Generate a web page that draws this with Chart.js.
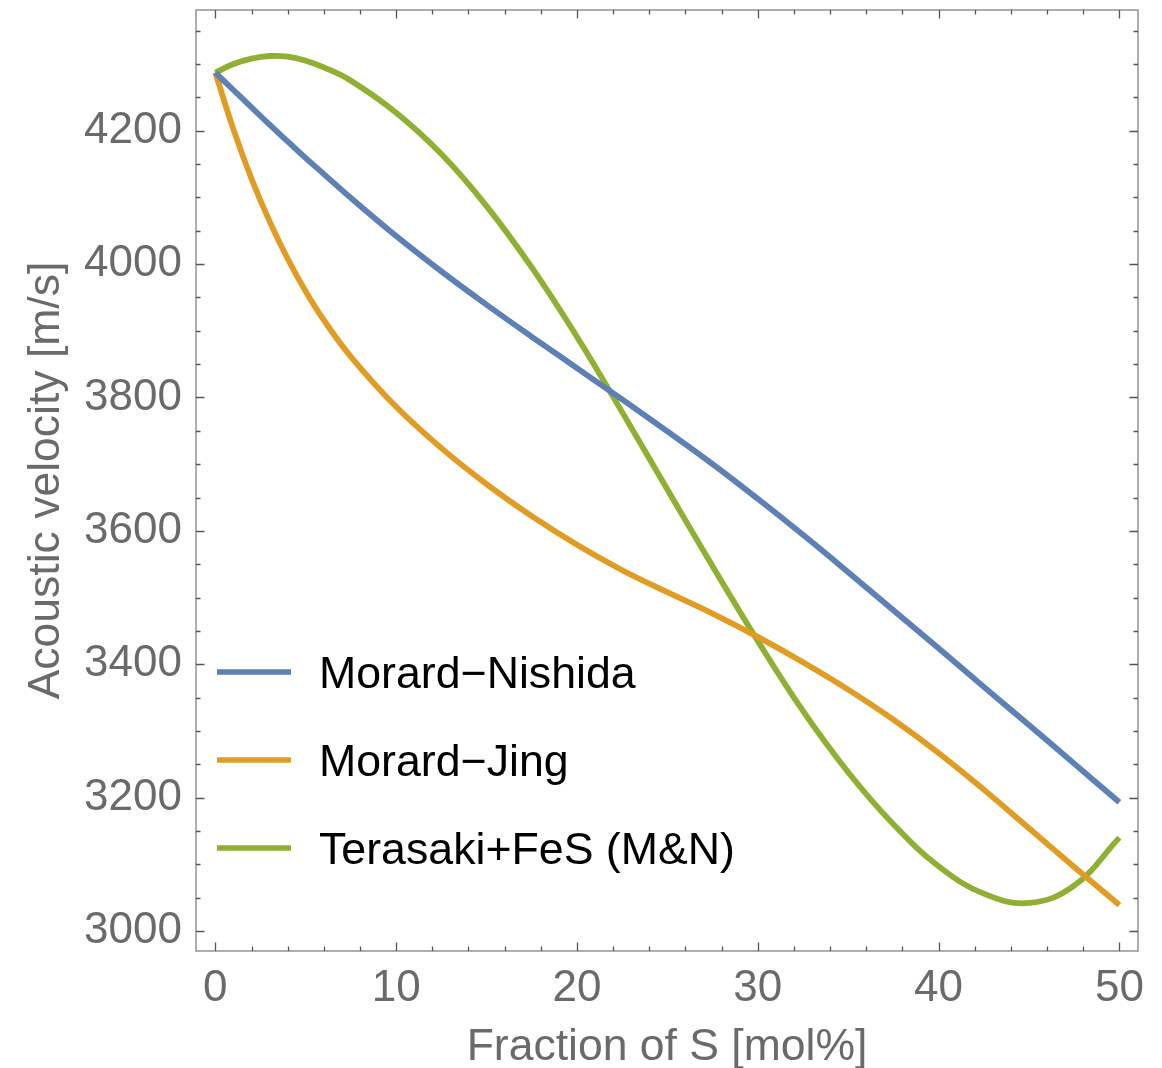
<!DOCTYPE html>
<html>
<head>
<meta charset="utf-8">
<script src="https://cdn.jsdelivr.net/npm/chart.js@4.4.1/dist/chart.umd.min.js"></script>
<style>
  html, body { margin: 0; padding: 0; background: #fff; }
  #wrap { width: 1162px; height: 1068px; }
</style>
</head>
<body>
<div id="wrap"><canvas id="chart"></canvas></div>
<script>
// Fraction of S [mol%]
let fractions = [0, 1, 2, 3, 4, 5, 6, 7.5, 10, 12.5, 15, 17.5, 20, 22.5, 25, 27.5, 30, 32.5, 35, 37.5, 40, 42.5, 45, 47.5, 50];

// acoustic velocity [m/s]
let morardNishida = [4287, 4261, 4235, 4209, 4184, 4159, 4135, 4099, 4042, 3989, 3939, 3891, 3844, 3797, 3749, 3700, 3648, 3594, 3538, 3481, 3424, 3366, 3309, 3251, 3193];
let morardJing = [4287, 4202, 4128, 4064, 4008, 3959, 3916, 3861, 3786, 3724, 3670, 3622, 3579, 3541, 3508, 3476, 3441, 3403, 3362, 3317, 3267, 3212, 3154, 3096, 3039];
let terasakiFeS = [4287, 4300, 4308, 4312, 4311, 4305, 4295, 4275, 4227, 4165, 4087, 3995, 3891, 3778, 3662, 3547, 3435, 3330, 3238, 3160, 3097, 3056, 3042, 3068, 3140];

let seriesNames = ["Morard\u2212Nishida", "Morard\u2212Jing", "Terasaki+FeS (M&N)"];
let seriesColors = ["#5E81B5", "#E19C24", "#8FB032"];

let xTicks = [0, 10, 20, 30, 40, 50];
let yTicks = [3000, 3200, 3400, 3600, 3800, 4000, 4200];
const xMinorStep = 2;
const yMinorStep = 50;

const FONT = "'Liberation Sans', Arial, Helvetica, sans-serif";
const GREY = "#6a6a6a";

function toPoints(values) {
  return values.map((v, i) => ({ x: fractions[i], y: v }));
}

// frame with inward ticks on all four sides
const frameTicks = {
  id: "frameTicks",
  beforeDatasetsDraw(chart) {
    const { ctx, chartArea: a, scales } = chart;
    const x = scales.x, y = scales.y;
    ctx.save();
    ctx.strokeStyle = "#9a9a9a";
    ctx.lineWidth = 1.6;
    ctx.strokeRect(a.left, a.top, a.right - a.left, a.bottom - a.top);
    ctx.strokeStyle = "#555";
    ctx.lineWidth = 1.3;
    ctx.beginPath();
    for (let v = 0; v <= x.max; v += xMinorStep) {
      const px = Math.round(x.getPixelForValue(v)) + 0.5;
      const len = xTicks.includes(v) ? 8.5 : 4.5;
      ctx.moveTo(px, a.bottom); ctx.lineTo(px, a.bottom - len);
      ctx.moveTo(px, a.top); ctx.lineTo(px, a.top + len);
    }
    for (let v = 3000; v <= y.max; v += yMinorStep) {
      const py = Math.round(y.getPixelForValue(v)) + 0.5;
      const len = yTicks.includes(v) ? 8.5 : 4.5;
      ctx.moveTo(a.left, py); ctx.lineTo(a.left + len, py);
      ctx.moveTo(a.right, py); ctx.lineTo(a.right - len, py);
    }
    ctx.stroke();
    ctx.restore();
  },
  afterDraw(chart) {
    // legend inside the plot, lower left
    const { ctx, chartArea: a } = chart;
    ctx.save();
    ctx.font = "44.7px " + FONT;
    ctx.textBaseline = "alphabetic";
    ctx.fillStyle = "#000";
    chart.data.datasets.forEach((ds, i) => {
      const yy = a.top + 662 + i * 88;
      ctx.strokeStyle = ds.borderColor;
      ctx.lineWidth = 5.5;
      ctx.beginPath();
      ctx.moveTo(a.left + 21, yy);
      ctx.lineTo(a.left + 95, yy);
      ctx.stroke();
      ctx.fillText(ds.label, a.left + 123, yy + 16);
    });
    ctx.restore();
  }
};

new Chart(document.getElementById("chart"), {
  type: "line",
  data: {
    datasets: [
      { label: seriesNames[0], data: toPoints(morardNishida), borderColor: seriesColors[0] },
      { label: seriesNames[1], data: toPoints(morardJing), borderColor: seriesColors[1] },
      { label: seriesNames[2], data: toPoints(terasakiFeS), borderColor: seriesColors[2] },
    ],
  },
  options: {
    responsive: true,
    maintainAspectRatio: false,
    animation: false,
    layout: { padding: { top: 10, right: 24, left: 0, bottom: 0 } },
    elements: {
      line: { borderWidth: 5.8, tension: 0.4, fill: false },
      point: { radius: 0 },
    },
    plugins: {
      legend: { display: false },
      tooltip: { enabled: false },
    },
    scales: {
      x: {
        type: "linear",
        min: -1.07,
        max: 51.03,
        afterBuildTicks: (s) => { s.ticks = xTicks.map((v) => ({ value: v })); },
        afterFit: (s) => { s.height = 117; s.paddingLeft = 0; s.paddingRight = 0; },
        grid: { display: false },
        border: { display: false },
        ticks: {
          font: { family: FONT, size: 44 },
          color: GREY,
          padding: 3,
          maxRotation: 0,
          callback: (v) => String(v),
        },
        title: {
          display: true,
          text: "Fraction of S [mol%]",
          font: { family: FONT, size: 44.5 },
          color: GREY,
          padding: { top: 0, bottom: -6 },
        },
      },
      y: {
        type: "linear",
        min: 2970,
        max: 4381,
        afterBuildTicks: (s) => { s.ticks = yTicks.map((v) => ({ value: v })); },
        afterFit: (s) => { s.width = 196; s.paddingTop = 0; s.paddingBottom = 0; },
        grid: { display: false },
        border: { display: false },
        ticks: {
          font: { family: FONT, size: 44 },
          color: GREY,
          padding: 6,
          callback: (v) => String(v),
        },
        title: {
          display: true,
          text: "Acoustic velocity [m/s]",
          font: { family: FONT, size: 44.5 },
          color: GREY,
          padding: { top: 20, bottom: 0 },
        },
      },
    },
  },
  plugins: [frameTicks],
});
</script>
</body>
</html>
